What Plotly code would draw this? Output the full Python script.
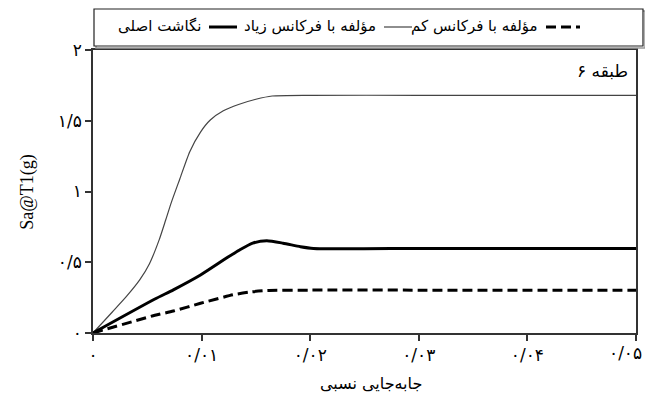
import plotly.graph_objects as go

# Relative drift (x) and Sa@T1 (g) for the three records of the 6-storey frame
drift_high = [0, 0.0018, 0.0031, 0.0043, 0.0052, 0.0061, 0.0067, 0.0072, 0.0080,
              0.0089, 0.0099, 0.0108, 0.0120, 0.0134, 0.0150, 0.0165, 0.0200,
              0.0300, 0.0400, 0.0500]
sa_high = [0, 0.15, 0.26, 0.375, 0.49, 0.66, 0.80, 0.92, 1.09,
           1.28, 1.42, 1.505, 1.57, 1.615, 1.652, 1.675, 1.68,
           1.68, 1.68, 1.68]

drift_orig = [0, 0.0057, 0.0074, 0.0099, 0.0124, 0.0135, 0.0147, 0.0160, 0.0175,
              0.0191, 0.0203, 0.0300, 0.0400, 0.0500]
sa_orig = [0, 0.24, 0.305, 0.41, 0.535, 0.587, 0.635, 0.652, 0.635,
           0.61, 0.598, 0.598, 0.598, 0.598]

drift_low = [0, 0.0057, 0.0074, 0.0099, 0.0129, 0.0145, 0.0160, 0.0200, 0.0300, 0.0500]
sa_low = [0, 0.125, 0.155, 0.21, 0.27, 0.29, 0.30, 0.303, 0.303, 0.303]

name_low = "مؤلفه با فرکانس کم"
name_high = "مؤلفه با فرکانس زیاد"
name_orig = "نگاشت اصلی"

x_ticks = [0, 0.01, 0.02, 0.03, 0.04, 0.05]
x_ticktext = ["۰", "۰/۰۱", "۰/۰۲", "۰/۰۳", "۰/۰۴", "۰/۰۵"]
y_ticks = [0, 0.5, 1, 1.5, 2]
y_ticktext = ["۰", "۰/۵", "۱", "۱/۵", "۲"]

fa_font = "DejaVu Sans"

# plot area in pixels: left 93, right 636, top 50, bottom 333
PL, PR, PT, PB = 93, 636, 50, 333


def px_x(px):
    return (px - PL) / (PR - PL)


def px_y(py):
    return (PB - py) / (PB - PT)


line_low = dict(color="black", width=3, dash="10px,5px")
line_high = dict(color="#444444", width=1.2)
line_orig = dict(color="black", width=3)

fig = go.Figure()
fig.add_trace(go.Scatter(x=drift_low, y=sa_low, name=name_low, mode="lines",
                         line=dict(**line_low, shape="spline", smoothing=0.6)))
fig.add_trace(go.Scatter(x=drift_high, y=sa_high, name=name_high, mode="lines",
                         line=dict(**line_high, shape="spline", smoothing=0.6)))
fig.add_trace(go.Scatter(x=drift_orig, y=sa_orig, name=name_orig, mode="lines",
                         line=dict(**line_orig, shape="spline", smoothing=0.6)))

axis_common = dict(showline=True, linecolor="#333333", linewidth=1.5, mirror=True,
                   ticks="outside", ticklen=6, tickwidth=1.5, tickcolor="#333333",
                   showgrid=False, zeroline=False,
                   tickfont=dict(family=fa_font, size=17, color="black"))

# the last x label sits flush with the right edge of the page, so it is
# placed as a right-anchored annotation instead of a centred tick label
fig.update_xaxes(range=[0, 0.05], tickvals=x_ticks,
                 ticktext=x_ticktext[:-1] + [""], **axis_common)
fig.update_yaxes(range=[0, 2], tickvals=y_ticks, ticktext=y_ticktext, **axis_common)

# right-to-left key above the plot: label, then its line sample on the right
legend_y = 27
key_items = [
    (name_orig, line_orig, 209, 237),
    (name_high, line_high, 384, 412),
    (name_low, line_low, 546, 580),
]

shapes = [
    dict(type="rect", xref="paper", yref="paper",
         x0=px_x(96), x1=px_x(645), y0=px_y(48), y1=px_y(11),
         line=dict(color="#999999", width=1.5), fillcolor="rgba(0,0,0,0)"),
    dict(type="rect", xref="paper", yref="paper",
         x0=px_x(94), x1=px_x(643), y0=px_y(46), y1=px_y(9),
         line=dict(color="#222222", width=1.2), fillcolor="white"),
]
annotations = []
for label, style, x0, x1 in key_items:
    shapes.append(dict(type="line", xref="paper", yref="paper",
                       x0=px_x(x0), x1=px_x(x1), y0=px_y(legend_y), y1=px_y(legend_y),
                       line=style))
    annotations.append(dict(text=label, xref="paper", yref="paper",
                            x=px_x(x0 - 6), y=px_y(legend_y - 1),
                            xanchor="right", yanchor="middle", showarrow=False,
                            font=dict(family=fa_font, size=15, color="black")))

annotations += [
    dict(text=x_ticktext[-1], xref="paper", yref="paper", x=px_x(644), y=px_y(353),
         xanchor="right", yanchor="middle", showarrow=False,
         font=dict(family=fa_font, size=17, color="black")),
    dict(text="۶ طبقه", xref="paper", yref="paper", x=0.989, y=0.926,
         xanchor="right", yanchor="middle", showarrow=False,
         font=dict(family=fa_font, size=17, color="black")),
    dict(text="Sa@T1(g)", xref="paper", yref="paper", x=-0.121, y=0.50,
         xanchor="center", yanchor="middle", textangle=-90, showarrow=False,
         font=dict(family="Liberation Serif", size=18, color="black")),
    dict(text="جابه‌جایی نسبی", xref="paper", yref="paper", x=0.512, y=-0.177,
         xanchor="center", yanchor="middle", showarrow=False,
         font=dict(family=fa_font, size=16, color="black")),
]

fig.update_layout(
    width=645, height=405,
    margin=dict(l=PL, r=645 - PR, t=PT, b=405 - PB, autoexpand=False),
    plot_bgcolor="white", paper_bgcolor="white",
    showlegend=False,
    shapes=shapes,
    annotations=annotations,
)

fig.write_html("out.html")
